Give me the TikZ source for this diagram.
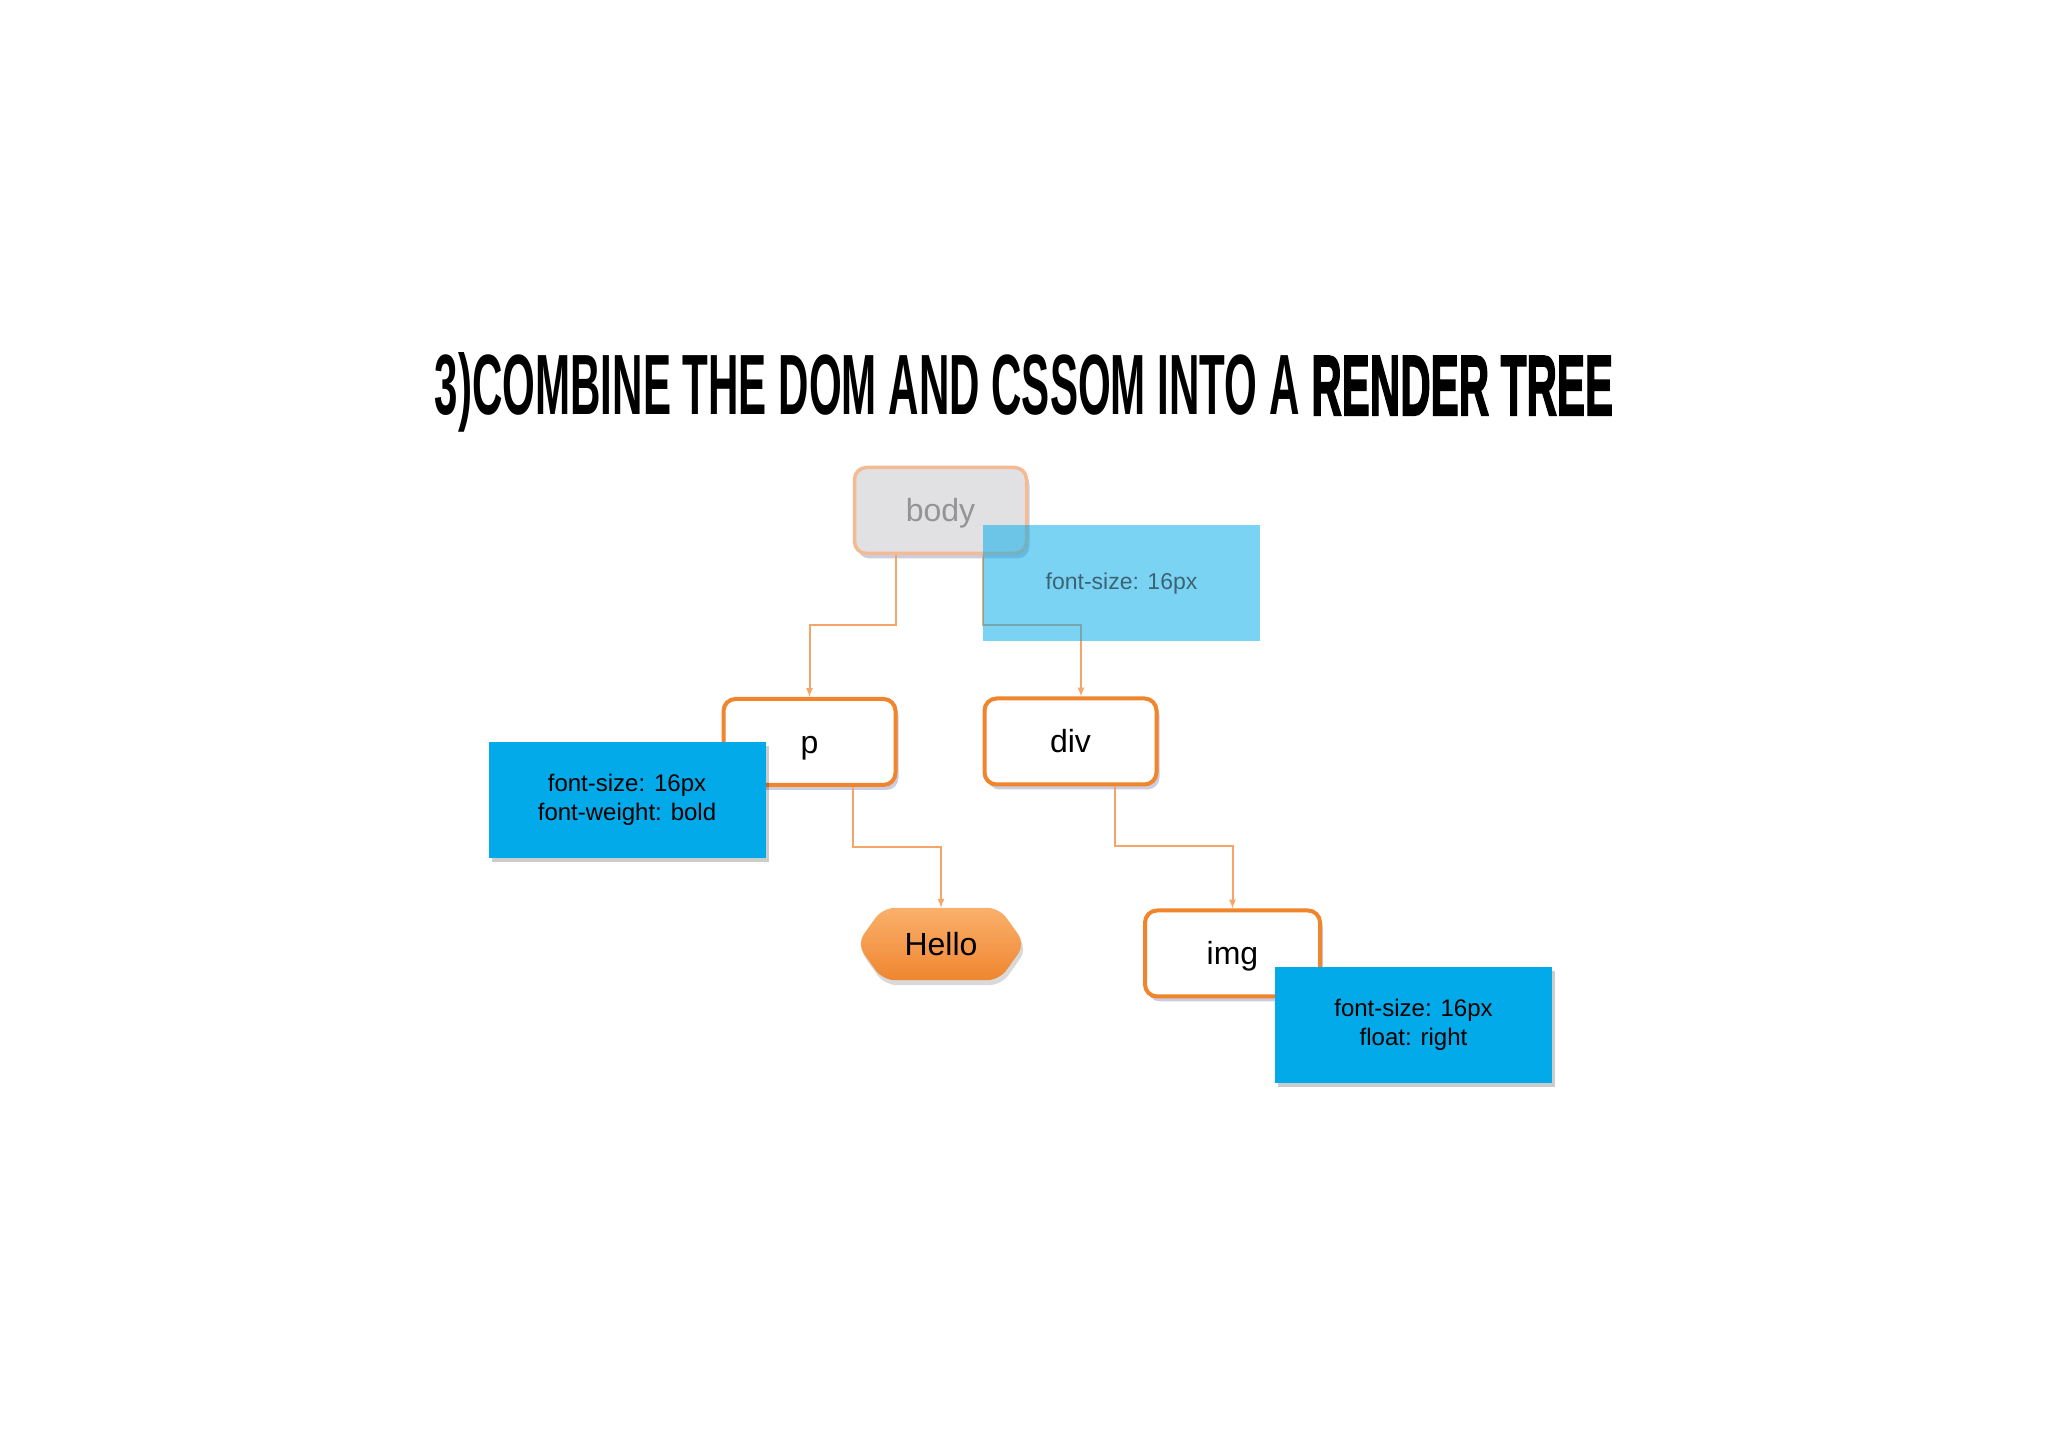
\documentclass[tikz,border=0pt]{standalone}
\usepackage{fontspec}
\setmainfont{Liberation Sans}
\newfontfamily\titlefont{Liberation Sans}
\newfontfamily\titleheavy{Liberation Sans}[BoldFeatures={FakeBold=2.5}]
\usetikzlibrary{backgrounds,shadows}
\tikzset{>=latex}

\definecolor{boxorange}{HTML}{F1852C}
\definecolor{linkorange}{HTML}{F6A56A}
\definecolor{cssblue}{HTML}{02AAE9}
\definecolor{bodygrey}{HTML}{E1E1E4}
\definecolor{bodyborder}{HTML}{F4BA92}
\definecolor{hellotop}{HTML}{FAB06C}
\definecolor{hellobottom}{HTML}{EF8630}

\tikzset{
    domnode/.style={draw=boxorange, line width=4pt, rounded corners=12pt, fill=white,
        minimum width=172pt, minimum height=86pt, text height=23pt, text depth=0pt,
        font=\fontsize{32}{38}\selectfont,
        drop shadow={shadow xshift=3pt, shadow yshift=-5pt, opacity=0.2, fill=black!60!blue}},
    cssbox/.style={fill=cssblue, minimum width=277pt, minimum height=116pt, align=center,
        font=\fontsize{24}{29}\selectfont},
    cssshadow/.style={drop shadow={shadow xshift=3pt, shadow yshift=-4pt, opacity=0.2, fill=black}},
    link/.style={draw=linkorange, line width=2pt, ->}
}

\begin{document}
\begin{tikzpicture}[x=1pt, y=1pt]
    \useasboundingbox (0,0) rectangle (2048,1447);

    \node[anchor=base] (title) at (1024,1032) {\resizebox{1178pt}{62pt}{\titlefont\bfseries 3)COMBINE THE DOM AND CSSOM INTO A \titleheavy\bfseries RENDER TREE}};

    % dom nodes
    \node[domnode, draw=bodyborder, line width=3.5pt, fill=bodygrey, text=black!42] (body) at (940.5,936.5) {body};
    \node[domnode] (p) at (809.5,705) {p};
    \node[domnode] (div) at (1070.5,705.5) {div};
    \node[domnode, minimum width=175pt] (img) at (1232.5,493.5) {img};
    \node[minimum width=168pt, minimum height=72pt, text height=23pt, text depth=0pt,
        font=\fontsize{32}{38}\selectfont] (hello) at (941,503) {Hello};
    \begin{scope}[on background layer]
        \shade[top color=hellotop, bottom color=hellobottom, rounded corners=12pt,
            drop shadow={shadow xshift=2pt, shadow yshift=-5pt, opacity=0.15, fill=black}]
            ([xshift=26]hello.north west) -- ([xshift=-26]hello.north east) -- (hello.east)
            -- ([xshift=-26]hello.south east) -- ([xshift=26]hello.south west) -- (hello.west) -- cycle;
    \end{scope}

    % connectors
    \draw[link] ([xshift=-44.5]body.south) -- ++(0,-70) -| (p.north);
    \draw[link] ([xshift=42.5]body.south) -- ++(0,-70) -| ([xshift=10.5]div.north);
    \draw[link] ([xshift=43.5]p.south) -- ++(0,-60) -| (hello.north);
    \draw[link] ([xshift=44.5]div.south) -- ++(0,-60) -| (img.north);

    % cssom
    \node[cssbox, opacity=0.52, font=\fontsize{23}{29}\selectfont] (bodycss) at (1121.5,863.5) {font-size: 16px};
    \node[cssbox, cssshadow] (pcss) at (627,647) {font-size: 16px\\font-weight: bold};
    \node[cssbox, cssshadow] (imgcss) at (1413.5,422) {font-size: 16px\\float: right};
\end{tikzpicture}
\end{document}
